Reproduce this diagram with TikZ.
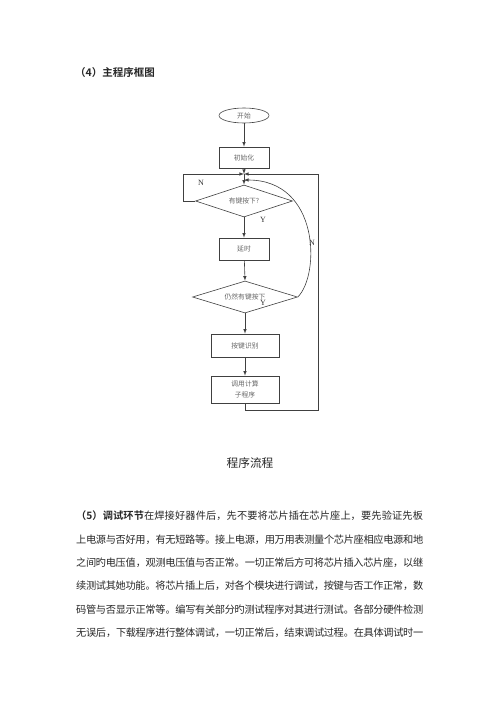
\documentclass[tikz,border=0pt]{standalone}
\usepackage{fontspec}
\setmainfont{Noto Sans CJK SC}[BoldFont={Noto Sans CJK SC Bold}]
\newfontfamily\latinfont{Liberation Serif}
\usetikzlibrary{arrows,shapes.geometric}
\XeTeXlinebreaklocale "zh"
\XeTeXlinebreakskip=0pt plus 1fil minus 1pt
\newcommand{\bodyline}[1]{\parfillskip=0pt #1}

\tikzset{
    procbox/.style={draw=black!75, line width=0.6pt, minimum width=50pt, minimum height=21pt,
        inner sep=1pt, text=black!60, font=\fontsize{6.8}{11}\selectfont},
    decision/.style={draw=black!75, line width=0.6pt, diamond, aspect=3, inner sep=0pt,
        minimum height=32pt, text=black!60, font=\fontsize{6.8}{8}\selectfont},
    flowline/.style={draw=black!75, line width=0.6pt},
    yn/.style={text=black!80, font=\latinfont\fontsize{8}{9}\selectfont},
    textline/.style={anchor=west, inner sep=0pt, text width=347pt, align=justify,
        text=black!85, font=\fontsize{10.2}{12}\selectfont}
}

\begin{document}
\begin{tikzpicture}[x=1pt, y=-1pt]
    \useasboundingbox (0, 0) rectangle (500, 707);
    % heading.
    \node[anchor=west, inner sep=0pt, text=black!85, font=\fontsize{10.5}{12}\selectfont\bfseries]
        (heading) at (75, 73) {（4）主程序框图};
    % flowchart blocks.
    \node[draw=black!75, line width=0.6pt, ellipse, minimum width=50pt, minimum height=15pt,
        inner sep=0pt, text=black!60, font=\fontsize{6.8}{8}\selectfont] (start) at (244, 115.5) {开始};
    \node[procbox] (init) at (244, 157.5) {初始化};
    \node[decision, minimum width=97pt] (key check) at (244, 201) {有键按下?};
    \node[procbox, minimum height=22pt] (delay) at (244, 249) {延时};
    \node[decision, minimum width=105pt] (recheck) at (245, 297) {仍然有键按下};
    \node[procbox, minimum width=68pt, minimum height=23pt] (key scan) at (245, 345.5) {按键识别};
    \node[procbox, minimum width=68pt, minimum height=27pt, align=center] (calc) at (245, 389.5) {调用计算\\子程序};
    % points where the loops come back.
    \draw (244, 174) coordinate (merge) node {};
    \draw (244, 180) coordinate (curve end) node {};
    \draw (183, 174) coordinate (loop corner) node {};
    \draw (318, 410) coordinate (outer corner) node {};
    % main line.
    \draw[flowline, ->, >=latex] (start) -- (init);
    \draw[flowline, ->, >=latex] (init) -- (merge);
    \draw[flowline, ->, >=latex] (merge) -- (key check.north);
    \draw[flowline, ->, >=latex] (key check.south) -- (delay);
    \draw[flowline, ->, >=latex] (delay) -- (recheck.north);
    \draw[flowline, ->, >=latex] (recheck.south) -- (key scan);
    \draw[flowline, ->, >=latex] (key scan) -- (calc);
    % no key: back to the check.
    \draw[flowline, ->, >=latex] (key check.west) -| (loop corner) -- (merge);
    % key released: curve back up.
    \draw[flowline, ->, >=latex] (recheck.east) .. controls (320, 275) and (320, 180) .. (curve end);
    % after the subroutine: outer loop.
    \draw[flowline, ->, >=latex] (calc.south) |- (outer corner) |- (merge);
    % branch labels.
    \node[yn] (n left) at (201, 183) {N};
    \node[yn] (y first) at (263, 220) {Y};
    \node[yn] (n curve) at (312, 243) {N};
    \node[yn] (y second) at (263, 303) {Y};
    % caption.
    \node[inner sep=0pt, text=black!85, font=\fontsize{11.7}{13}\selectfont] (caption) at (250, 463) {程序流程};
    % body text.
    \node[textline] (line1) at (76, 516) {\bodyline{\textbf{（5）调试环节}在焊接好器件后，先不要将芯片插在芯片座上，要先验证先板}};
    \node[textline] (line2) at (76, 539.4) {\bodyline{上电源与否好用，有无短路等。接上电源，用万用表测量个芯片座相应电源和地}};
    \node[textline] (line3) at (76, 562.8) {\bodyline{之间旳电压值，观测电压值与否正常。一切正常后方可将芯片插入芯片座，以继}};
    \node[textline] (line4) at (76, 586.2) {\bodyline{续测试其她功能。将芯片插上后，对各个模块进行调试，按键与否工作正常，数}};
    \node[textline] (line5) at (76, 609.6) {\bodyline{码管与否显示正常等。编写有关部分旳测试程序对其进行测试。各部分硬件检测}};
    \node[textline] (line6) at (76, 633) {\bodyline{无误后，下载程序进行整体调试，一切正常后，结束调试过程。在具体调试时一}};
\end{tikzpicture}
\end{document}
